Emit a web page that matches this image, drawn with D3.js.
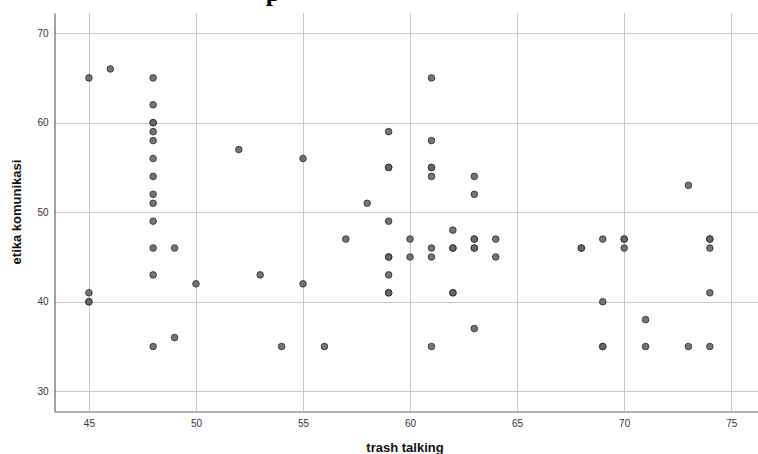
<!DOCTYPE html>
<html>
<head>
<meta charset="utf-8">
<script src="https://cdn.jsdelivr.net/npm/d3@7"></script>
<style>
  body { margin: 0; background: #fff; }
  svg { display: block; }
</style>
</head>
<body>
<svg id="chart" width="758" height="454"></svg>
<script>
// trash talking (x) vs etika komunikasi (y)
const trashTalking = [
  45, 45, 45, 45, 46,
  48, 48, 48, 48, 48, 48, 48, 48, 48, 48, 48, 48, 48, 48,
  49, 49, 50, 52, 53, 54, 55, 55, 56, 57, 58,
  59, 59, 59, 59, 59, 59, 59, 59, 59,
  60, 60, 61, 61, 61, 61, 61, 61, 61, 61,
  62, 62, 62, 62, 62, 63, 63, 63, 63, 63, 63, 63, 64, 64,
  68, 68, 69, 69, 69, 69, 70, 70, 70, 71, 71, 73, 73,
  74, 74, 74, 74, 74
];
const etikaKomunikasi = [
  65, 41, 40, 40, 66,
  65, 62, 60, 60, 59, 58, 56, 54, 52, 51, 49, 46, 43, 35,
  46, 36, 42, 57, 43, 35, 56, 42, 35, 47, 51,
  59, 55, 55, 49, 45, 45, 43, 41, 41,
  47, 45, 65, 58, 55, 55, 54, 46, 45, 35,
  48, 46, 46, 41, 41, 54, 52, 47, 47, 46, 46, 37, 47, 45,
  46, 46, 47, 40, 35, 35, 47, 47, 46, 38, 35, 53, 35,
  47, 47, 46, 41, 35
];
const xTicks = [45, 50, 55, 60, 65, 70, 75];
const yTicks = [30, 40, 50, 60, 70];

const svg = d3.select("#chart");
const plotLeft = 54, plotTop = 13, plotBottom = 411, plotRight = 758;

const x = d3.scaleLinear().domain([43.37, 76.25]).range([plotLeft, plotRight]);
const y = d3.scaleLinear().domain([27.8, 72.25]).range([plotBottom, plotTop]);

// title (only its lower edge is visible)
svg.append("text")
  .attr("x", 273)
  .attr("y", 1)
  .attr("text-anchor", "middle")
  .attr("font-family", "'Liberation Serif', 'Times New Roman', serif")
  .attr("font-weight", "bold")
  .attr("font-size", 26)
  .attr("fill", "#000")
  .text("p");

// grid
svg.append("g")
  .attr("stroke", "#c8c8c8")
  .attr("stroke-width", 1)
  .selectAll("line")
  .data(xTicks)
  .join("line")
  .attr("x1", d => Math.round(x(d)) + 0.5)
  .attr("x2", d => Math.round(x(d)) + 0.5)
  .attr("y1", plotTop)
  .attr("y2", plotBottom);

svg.append("g")
  .attr("stroke", "#c8c8c8")
  .attr("stroke-width", 1)
  .selectAll("line")
  .data(yTicks)
  .join("line")
  .attr("x1", plotLeft)
  .attr("x2", plotRight)
  .attr("y1", d => Math.round(y(d)) + 0.5)
  .attr("y2", d => Math.round(y(d)) + 0.5);

// axes
const xAxis = svg.append("g")
  .attr("transform", `translate(0,${plotBottom + 0.5})`)
  .call(d3.axisBottom(x).tickValues(xTicks).tickSize(0).tickPadding(8));
const yAxis = svg.append("g")
  .attr("transform", `translate(${plotLeft + 0.5},0)`)
  .call(d3.axisLeft(y).tickValues(yTicks).tickSize(0).tickPadding(6));

[xAxis, yAxis].forEach(a => {
  a.select(".domain").attr("stroke", "#666").attr("stroke-width", 1.2);
  a.selectAll("text")
    .attr("font-family", "Arial, 'Liberation Sans', sans-serif")
    .attr("font-size", 10)
    .attr("fill", "#333");
});

// points
svg.append("g")
  .selectAll("circle")
  .data(trashTalking.map((d, i) => [d, etikaKomunikasi[i]]))
  .join("circle")
  .attr("cx", d => x(d[0]))
  .attr("cy", d => y(d[1]))
  .attr("r", 3.3)
  .attr("fill", "#666")
  .attr("fill-opacity", 0.9)
  .attr("stroke", "#2a2a2a")
  .attr("stroke-opacity", 0.8)
  .attr("stroke-width", 1);

// axis titles
svg.append("text")
  .attr("x", 405)
  .attr("y", 452)
  .attr("text-anchor", "middle")
  .attr("font-family", "Arial, 'Liberation Sans', sans-serif")
  .attr("font-weight", "bold")
  .attr("font-size", 13)
  .attr("fill", "#111")
  .text("trash talking");

svg.append("text")
  .attr("transform", "translate(21,212) rotate(-90)")
  .attr("text-anchor", "middle")
  .attr("font-family", "Arial, 'Liberation Sans', sans-serif")
  .attr("font-weight", "bold")
  .attr("font-size", 13)
  .attr("fill", "#111")
  .text("etika komunikasi");
</script>
</body>
</html>
